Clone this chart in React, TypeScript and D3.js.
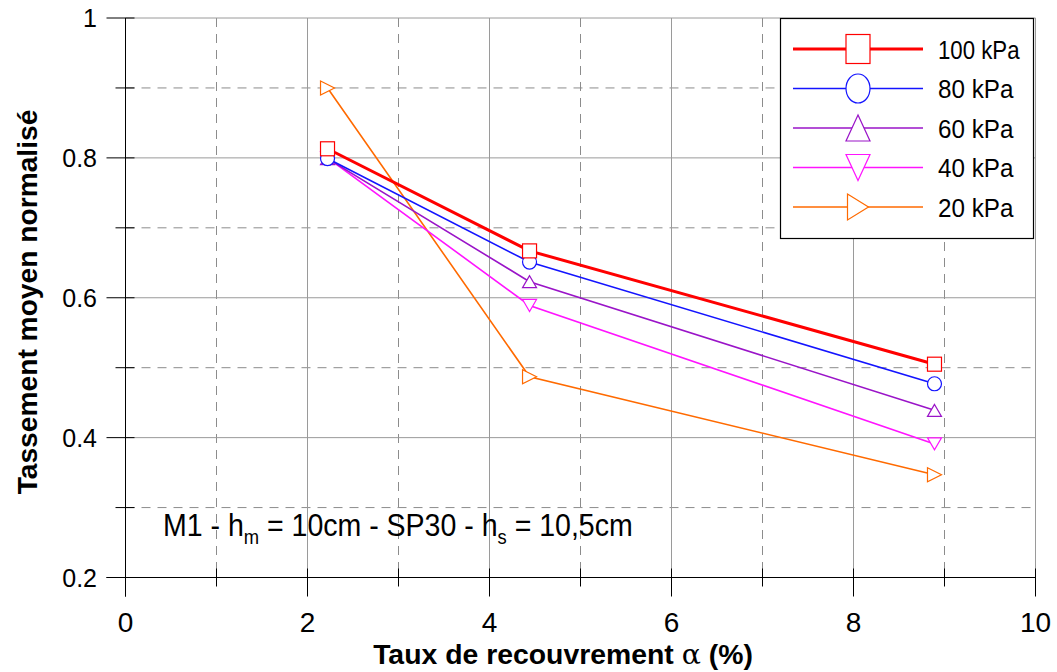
import React, { useLayoutEffect, useRef, useState } from "react";
import * as d3 from "d3";

const xValues = [2.22, 4.44, 8.89];
const seriesNames = ["100 kPa", "80 kPa", "60 kPa", "40 kPa", "20 kPa"];
const s100 = [0.813, 0.667, 0.505];
const s80 = [0.799, 0.651, 0.477];
const s60 = [0.799, 0.623, 0.439];
const s40 = [0.8, 0.589, 0.391];
const s20 = [0.9, 0.487, 0.347];
const xTicks = [0, 2, 4, 6, 8, 10];
const xMinor = [1, 3, 5, 7, 9];
const yTicks = [0.2, 0.4, 0.6, 0.8, 1];
const yMinor = [0.3, 0.5, 0.7, 0.9];

const colors = ["#ff0000", "#1414ff", "#9a14c8", "#ff14ff", "#ff6a00"];
const widths = [3, 1.6, 1.6, 1.6, 1.6];
const shapes = ["square", "circle", "triUp", "triDown", "triRight"];
const allSeries = [s100, s80, s60, s40, s20];

const W = 1057, H = 672;
const M = { left: 125.5, right: 1035.5, top: 18, bottom: 577.5 };

const sans = "'Liberation Sans', Arial, Helvetica, sans-serif";

function Marker({ shape, x, y, w, h, color }: { shape: string; x: number; y: number; w: number; h: number; color: string }) {
  const a = w / 2, b = h / 2;
  const common = { fill: "white", stroke: color, strokeWidth: 1.2 };
  if (shape === "square") return <rect x={x - a} y={y - b} width={w} height={h} {...common} />;
  if (shape === "circle") return <ellipse cx={x} cy={y} rx={a} ry={b} {...common} />;
  if (shape === "triUp")
    return <polygon points={`${x},${y - b} ${x - a},${y + b} ${x + a},${y + b}`} {...common} />;
  if (shape === "triDown")
    return <polygon points={`${x - a},${y - b} ${x + a},${y - b} ${x},${y + b}`} {...common} />;
  return <polygon points={`${x - a},${y - b} ${x + a},${y} ${x - a},${y + b}`} {...common} />;
}

// Text horizontally scaled so that its width equals `width`
function FitText({
  x, y, width, anchor, rotate, children, ...rest
}: any) {
  const ref = useRef<SVGTextElement>(null);
  const [s, setS] = useState(1);
  useLayoutEffect(() => {
    if (ref.current) {
      const bw = ref.current.getBBox().width;
      if (bw > 0) setS(width / bw);
    }
  }, [width]);
  return (
    <g transform={`translate(${x},${y})${rotate ? ` rotate(${rotate})` : ""} scale(${s},1)`}>
      <text ref={ref} x={0} y={0} textAnchor={anchor || "start"} {...rest}>
        {children}
      </text>
    </g>
  );
}

export default function App() {
  const x = d3.scaleLinear().domain([0, 10]).range([M.left, M.right]);
  const y = d3.scaleLinear().domain([0.2, 1]).range([M.bottom, M.top]);
  const line = d3
    .line<[number, number]>()
    .x((d) => x(d[0]))
    .y((d) => y(d[1]));

  const order = [4, 3, 2, 1, 0];
  const legX = 780.5, legY = 18.5, legW = 253, legH = 220;

  return (
    <svg width={W} height={H} style={{ position: "absolute", left: 0, top: 0, background: "white" }}>
      <rect x={0} y={0} width={W} height={H} fill="white" />
      {/* grid */}
      {xMinor.map((t) => (
        <line key={"xm" + t} x1={x(t)} x2={x(t)} y1={M.top} y2={M.bottom} stroke="#8c8c8c" strokeWidth={1} strokeDasharray="9,7" />
      ))}
      {yMinor.map((t) => (
        <line key={"ym" + t} x1={M.left} x2={M.right} y1={y(t)} y2={y(t)} stroke="#8c8c8c" strokeWidth={1} strokeDasharray="9,7" />
      ))}
      {xTicks.slice(1).map((t) => (
        <line key={"xg" + t} x1={x(t)} x2={x(t)} y1={M.top} y2={M.bottom} stroke="#9a9a9a" strokeWidth={1} />
      ))}
      {yTicks.slice(1).map((t) => (
        <line key={"yg" + t} x1={M.left} x2={M.right} y1={y(t)} y2={y(t)} stroke="#9a9a9a" strokeWidth={1} />
      ))}
      {/* axes */}
      <line x1={M.left} x2={M.left} y1={M.top} y2={M.bottom + 19} stroke="#000" strokeWidth={1} />
      <line x1={M.left - 19} x2={M.right} y1={M.bottom} y2={M.bottom} stroke="#000" strokeWidth={1} />
      {yTicks.map((t) => (
        <line key={"yt" + t} x1={M.left - 19} x2={M.left + 9} y1={y(t)} y2={y(t)} stroke="#000" />
      ))}
      {yMinor.map((t) => (
        <line key={"ytm" + t} x1={M.left - 10} x2={M.left + 9} y1={y(t)} y2={y(t)} stroke="#000" />
      ))}
      {xTicks.map((t) => (
        <line key={"xt" + t} x1={x(t)} x2={x(t)} y1={M.bottom - 9} y2={M.bottom + 19} stroke="#000" />
      ))}
      {xMinor.map((t) => (
        <line key={"xtm" + t} x1={x(t)} x2={x(t)} y1={M.bottom - 9} y2={M.bottom + 9} stroke="#000" />
      ))}
      {/* tick labels */}
      {yTicks.map((t) => (
        <text key={"yl" + t} x={97} y={y(t)} dy="0.36em" textAnchor="end" fontFamily={sans} fontSize={25} fill="#000">
          {t === 1 ? "1" : d3.format(".1f")(t)}
        </text>
      ))}
      {xTicks.map((t) => (
        <text key={"xl" + t} x={x(t)} y={632} textAnchor="middle" fontFamily={sans} fontSize={28} fill="#000">
          {t}
        </text>
      ))}
      {/* axis titles */}
      <FitText x={563} y={664} width={380} anchor="middle" fontFamily={sans} fontWeight="bold" fontSize={27} fill="#000">
        Taux de recouvrement <tspan fontFamily="'DejaVu Serif', serif" fontWeight="normal">α</tspan> (%)
      </FitText>
      <FitText x={37} y={302} rotate={-90} width={385} anchor="middle" fontFamily={sans} fontWeight="bold" fontSize={28} fill="#000">
        Tassement moyen normalisé
      </FitText>
      {/* series */}
      {order.map((i) => (
        <path
          key={"l" + i}
          d={line(xValues.map((xv, j) => [xv, allSeries[i][j]]) as [number, number][]) || ""}
          fill="none"
          stroke={colors[i]}
          strokeWidth={widths[i]}
        />
      ))}
      {order.map((i) =>
        xValues.map((xv, j) => (
          <Marker key={"m" + i + "-" + j} shape={shapes[i]} x={x(xv)} y={y(allSeries[i][j])} w={14} h={shapes[i].startsWith("tri") && shapes[i] !== "triRight" ? 12 : 14} color={colors[i]} />
        ))
      )}
      {/* annotation */}
      <FitText x={163} y={536} width={470} fontFamily={sans} fontSize={31} fill="#000">
        M1 - h<tspan fontSize={20} dy={8}>m</tspan>
        <tspan dy={-8}> = 10cm - SP30 - h</tspan>
        <tspan fontSize={20} dy={8}>s</tspan>
        <tspan dy={-8}> = 10,5cm</tspan>
      </FitText>
      {/* legend */}
      <rect x={legX} y={legY} width={legW} height={legH} fill="white" stroke="#000" strokeWidth={1.2} />
      {seriesNames.map((n, i) => {
        const cy = 49 + i * 39.5;
        return (
          <g key={"lg" + i}>
            <line x1={793} x2={923} y1={cy} y2={cy} stroke={colors[i]} strokeWidth={widths[i]} />
            <Marker shape={shapes[i]} x={858} y={cy} w={shapes[i] === "triRight" ? 21 : 24} h={shapes[i] === "square" || shapes[i] === "circle" ? 29 : 26} color={colors[i]} />
            <FitText x={938} y={cy + 9.5} width={82 * (n.length / 7) * (n.length === 6 ? 1.08 : 1)} fontFamily={sans} fontSize={26} fill="#000">
              {n}
            </FitText>
          </g>
        );
      })}
    </svg>
  );
}
